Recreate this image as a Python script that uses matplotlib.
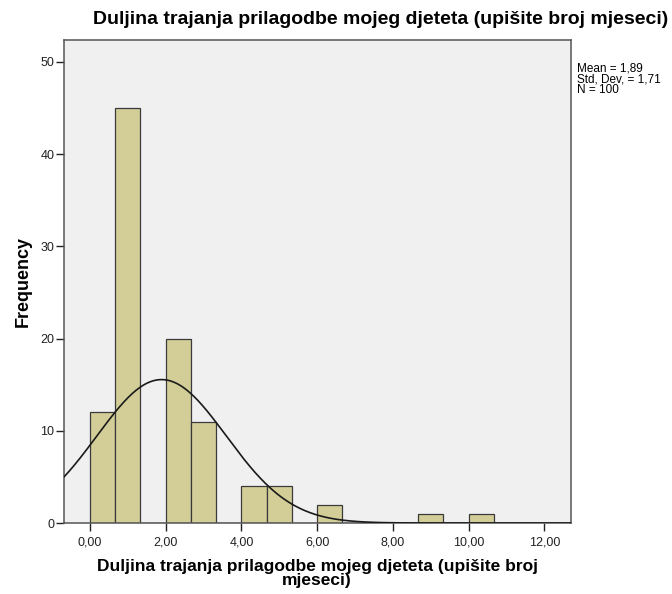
import numpy as np
import matplotlib; matplotlib.use('Agg')
import matplotlib.pyplot as plt

# histogram bins (width 2/3 month) and counts
bin_width = 2 / 3
counts = [12, 45, 0, 20, 11, 0, 4, 4, 0, 2, 0, 0, 0, 1, 0, 1]
mean, sd, n = 1.89, 1.71, 100
xticks = [0, 2, 4, 6, 8, 10, 12]
xticklabels = ['0,00', '2,00', '4,00', '6,00', '8,00', '10,00', '12,00']
yticks = [0, 10, 20, 30, 40, 50]
title = 'Duljina trajanja prilagodbe mojeg djeteta (upišite broj mjeseci)'
xlabel = 'Duljina trajanja prilagodbe mojeg djeteta (upišite broj\nmjeseci)'

plt.rcParams['font.family'] = ['Liberation Sans', 'DejaVu Sans']

fig = plt.figure(figsize=(6.72, 5.94), dpi=100)
ax = fig.add_axes([0.0945, 0.1195, 0.7545, 0.8135])
ax.set_facecolor('#f0f0f0')

lefts = np.arange(len(counts)) * bin_width
ax.bar(lefts, counts, width=bin_width, align='edge', color='#d3ce98',
       edgecolor='#3a3a3a', linewidth=0.9, zorder=2)

xmin, xmax = -0.70, 12.69
xs = np.linspace(xmin, xmax, 400)
ys = n * bin_width * np.exp(-0.5 * ((xs - mean) / sd) ** 2) / (sd * np.sqrt(2 * np.pi))
ax.plot(xs, ys, color='#1a1a1a', lw=1.2, zorder=3)

ax.set_xlim(xmin, xmax)
ax.set_ylim(0, 52.4)
ax.set_xticks(xticks)
ax.set_xticklabels(xticklabels)
ax.set_yticks(yticks)
ax.tick_params(direction='out', length=5.5, width=1, labelsize=9, colors='#222222')
ax.tick_params(axis='y', pad=1)
ax.tick_params(axis='x', pad=4)
for s in ax.spines.values():
    s.set_color('#555555'); s.set_linewidth(1.1)

ax.set_xlabel(xlabel, fontsize=12.5, fontweight='bold', labelpad=8, linespacing=0.88)
ax.set_ylabel('Frequency', fontsize=13, fontweight='bold', labelpad=6)
fig.text(0.567, 0.968, title, ha='center', va='center', fontsize=14, fontweight='bold')
fig.text(0.859, 0.894, f'Mean = {mean:.2f}'.replace('.', ',') + '\n'
         + f'Std. Dev. = {sd:.2f}'.replace('.', ',') + f'\nN = {n}',
         ha='left', va='top', fontsize=8.5, linespacing=0.85)

fig.savefig('out.png', dpi=100)
